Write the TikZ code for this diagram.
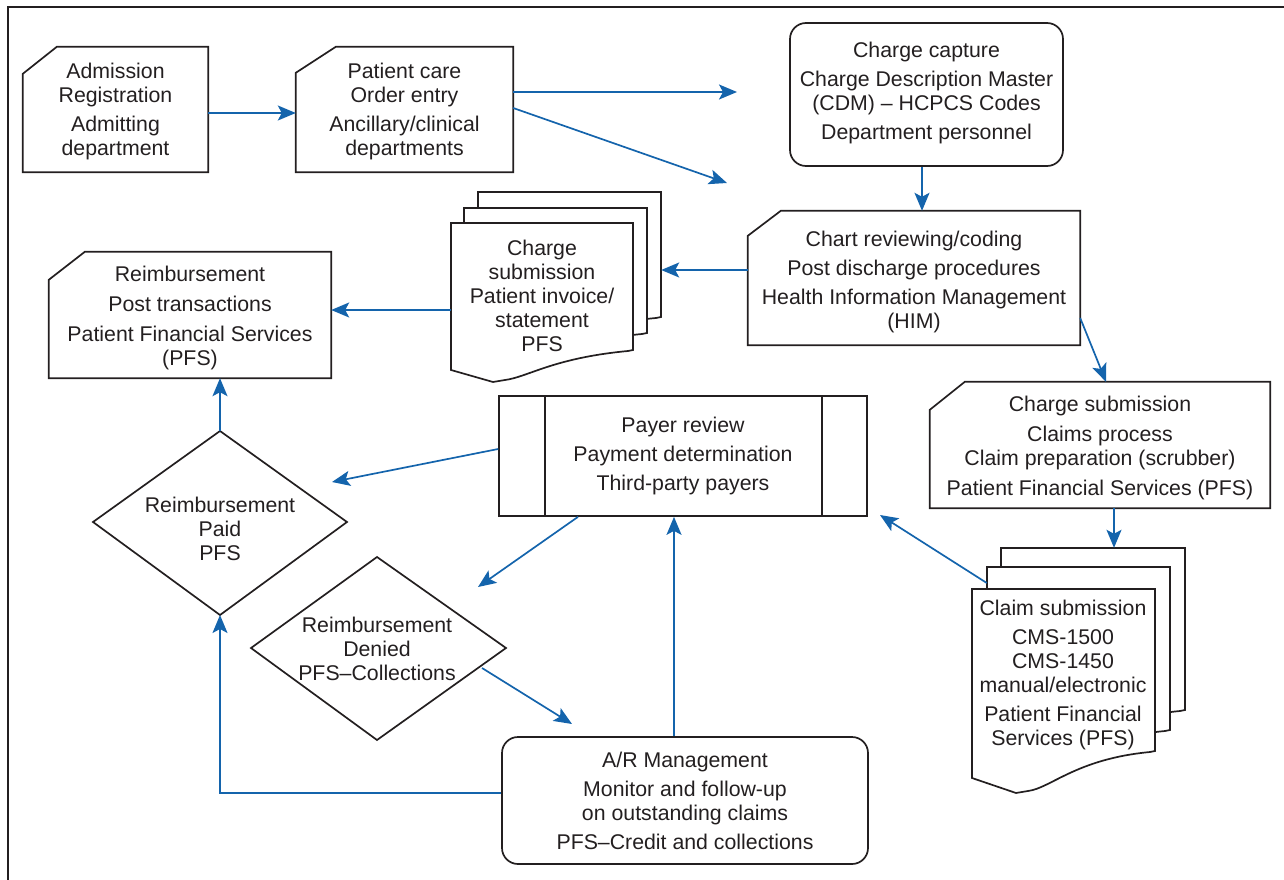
\documentclass[tikz,border=0pt]{standalone}
\usepackage{fontspec}
\setmainfont{Liberation Sans}
\usetikzlibrary{arrows.meta,calc}
\definecolor{flowblue}{RGB}{20,100,172}
\definecolor{ink}{RGB}{35,31,32}
\newcommand\cutcard[3]{\draw[shp] ([xshift=#2pt]#1.north west) -- (#1.north east) -- (#1.south east) -- (#1.south west) -- ([yshift=-#3pt]#1.north west) -- cycle;}
\newcommand\docpath[7]{\draw[shp,fill=white] (#1,#2) -- (#3,#2) -- (#3,#4) -- (#3-5,#4+1) .. controls (#6+60,#4+8) and (#6+35,#7-5) .. (#6+12,#7-2) -- (#6,#7) -- (#1,#5) -- cycle;}
\begin{document}
\begin{tikzpicture}[x=1pt,y=-1pt,
 every node/.style={font=\fontsize{21.3}{24}\selectfont, text=ink},
 area/.style={inner sep=0pt, align=center},
 shp/.style={draw=ink, line width=1.7pt, line join=miter},
 arr/.style={draw=flowblue, line width=1.7pt, -{Stealth[length=18pt,width=15pt,inset=4pt]}}]

\useasboundingbox (0,0) rectangle (1284,880);
\draw[ink, line width=2.6pt] (1284,7) -- (8,7) -- (8,880);

% --- cards
\node[area, minimum width=185pt, minimum height=125pt] (adm) at (115.5,109.5) {};
\node[area] (admT) at (115.5,111.5) {Admission\\Registration\\[5pt]Admitting\\department};
\cutcard{adm}{34}{27}
\node[area, minimum width=217pt, minimum height=125pt] (pc) at (404.5,109.5) {};
\node[area] (pcT) at (404.5,111.5) {Patient care\\Order entry\\[5pt]Ancillary/clinical\\departments};
\cutcard{pc}{40}{26}
\node[area, draw=ink, line width=1.7pt, rounded corners=16pt, minimum width=273pt, minimum height=143pt] (cc) at (926.5,94.5) {};
\node[area] (ccT) at (926.5,92.5) {Charge capture\\[5pt]Charge Description Master\\(CDM) -- HCPCS Codes\\[5pt]Department personnel};
\node[area, minimum width=332pt, minimum height=134pt] (chart) at (914,278) {};
\node[area] (chartT) at (914,282) {Chart reviewing/coding\\[5pt]Post discharge procedures\\[5pt]Health Information Management\\(HIM)};
\cutcard{chart}{33}{25}
\node[area, minimum width=282pt, minimum height=126pt] (reimb) at (190,315) {};
\node[area] (reimbT) at (190,318) {Reimbursement\\[6pt]Post transactions\\[6pt]Patient Financial Services\\(PFS)};
\cutcard{reimb}{36}{28}
\node[area, minimum width=340pt, minimum height=126pt] (chsub) at (1100,445) {};
\node[area] (chsubT) at (1100,448) {Charge submission\\[6pt]Claims process\\Claim preparation (scrubber)\\[6pt]Patient Financial Services (PFS)};
\cutcard{chsub}{35}{28}

% --- payer (predefined process)
\node[area, draw=ink, line width=1.7pt, minimum width=368pt, minimum height=120pt] (payer) at (683,456)
 {Payer review\\[5pt]Payment determination\\[5pt]Third-party payers};
\draw[shp] ([xshift=47pt]payer.north west) -- ([xshift=47pt]payer.south west);
\draw[shp] ([xshift=-46pt]payer.north east) -- ([xshift=-46pt]payer.south east);

% --- A/R management
\node[area, draw=ink, line width=1.7pt, rounded corners=16pt, minimum width=366pt, minimum height=127pt] (ar) at (685,800.5)
 {A/R Management\\[5pt]Monitor and follow-up\\on outstanding claims\\[5pt]PFS--Credit and collections};

% --- diamonds
\coordinate (paidT) at (220,431);
\coordinate (paidB) at (220,615);
\draw[shp] (paidT) -- (347,522) -- (paidB) -- (93,522) -- cycle;
\node[area] (paid) at (220,529) {Reimbursement\\Paid\\PFS};
\coordinate (denT) at (377,557);
\coordinate (denB) at (377,740);
\draw[shp] (denT) -- (506,648) -- (denB) -- (251,648) -- cycle;
\node[area] (denied) at (377,649) {Reimbursement\\Denied\\PFS--Collections};

% --- charge submission documents
\docpath{478}{192}{661}{317}{337}{520}{349}
\docpath{464}{208}{647}{333}{353}{506}{365}
\docpath{451}{223}{633}{350}{370}{493}{382}
\node[area, minimum width=183pt, minimum height=125pt] (csubback) at (569.5,254.5) {};
\node[area, minimum width=182pt, minimum height=147pt] (csubfront) at (542,296.5) {};
\node[area] (csub) at (542,296) {Charge\\submission\\Patient invoice/\\statement\\PFS};

% --- claim submission documents
\docpath{1001}{548}{1185}{710}{737}{1045}{752}
\docpath{987}{567}{1170}{730}{757}{1031}{772}
\docpath{972}{589}{1155}{751}{778}{1016}{793}
\node[area, minimum width=184pt, minimum height=162pt] (claimback) at (1093,629) {};
\node[area, minimum width=183pt, minimum height=163pt] (claimmid) at (1078.5,648.5) {};
\node[area] (claim) at (1063,675) {Claim submission\\[5pt]CMS-1500\\CMS-1450\\manual/electronic\\[5pt]Patient Financial\\Services (PFS)};

% --- free arrow ends
\coordinate (e1) at (737,92);
\coordinate (e2) at (727,183);
\coordinate (e3) at (332,482);
\coordinate (e4) at (478,587);
\coordinate (e5) at (572,724);
\coordinate (e6) at (880,515);

% --- connectors
\draw[arr] (adm.east |- 0,113) -- (pc.west |- 0,113);
\draw[arr] (pc.east |- 0,92) -- (e1);
\draw[arr] (pc.east |- 0,108) -- (e2);
\draw[arr] (cc.south -| 922,0) -- (chart.north -| 922,0);
\draw[arr] (chart.west |- 0,270) -- (csubback.east |- 0,270);
\draw[arr] (csubfront.west |- 0,310) -- (reimb.east |- 0,310);
\draw[arr] (paidT) -- (reimb.south -| paidT);
\draw[arr] (payer.west |- 0,449) -- (e3);
\draw[arr] (payer.south -| 578,0) -- (e4);
\draw[arr] (482,668) -- (e5);
\draw[arr] (ar.north -| 674,0) -- (payer.south -| 674,0);
\draw[arr] (ar.west |- 0,793) -| (paidB);
\draw[arr] (chart.east |- 0,318) -- (chsub.north -| 1106,0);
\draw[arr] (chsub.south -| 1114,0) -- (claimback.north -| 1114,0);
\draw[arr] (claimmid.west |- 0,583) -- (e6);
\end{tikzpicture}
\end{document}
